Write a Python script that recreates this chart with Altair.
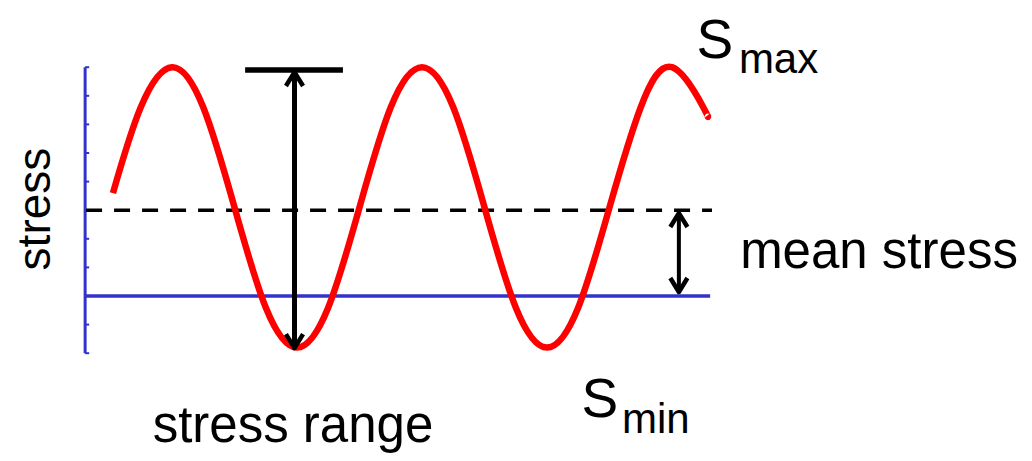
import altair as alt
import pandas as pd

# ---------------- data (x: time in eighths of a load cycle, y: stress in tick units) ----------------
curve_t = [0.11, 1, 2, 3, 4, 5, 6, 7, 8, 9, 10, 11, 12, 13, 14, 15, 16, 17, 18, 19, 19.12]
curve_s = [3.6, 6.6, 8.0, 6.6, 3.1, -0.4, -1.8, -0.4, 3.1, 6.6, 8.0, 6.6, 3.1, -0.4, -1.8, -0.4, 3.1, 6.6, 8.0, 6.6, 6.3]

axis_t = -0.78
tick_values = [-2, -1, 0, 1, 2, 3, 4, 5, 6, 7, 8]
tick_len = 0.13
line_end_t = 19.22

mean_stress = 3.0
zero_stress = 0.0

range_arrow_t = 5.92
range_top = 7.83
range_bottom = -1.82
bar_t = [4.34, 7.47]
bar_s = 7.9

mean_arrow_t = 18.22
mean_arrow_top = 2.9
mean_arrow_bottom = 0.14

big_labels = ["S", "S"]
big_t = [18.78, 15.1]
big_s = [8.32, -4.23]
sub_labels = ["max", "min"]
sub_t = [20.14, 16.4]
sub_s = [7.80, -4.79]
plain_labels = ["mean stress"]
plain_t = [20.18]
plain_s = [0.98]
range_label = ["stress range"]
range_label_t = [5.87]
range_label_s = [-5.105]
ylabel = ["stress"]
ylabel_t = [-1.9]
ylabel_s = [3.04]

# ---------------- styling ----------------
BLUE = "#3333CC"
RED = "#FF0000"
FONT = "Liberation Sans"
W, H = 1016, 445

XS = alt.Scale(domain=[-3.248, 29.264], nice=False, zero=False)
YS = alt.Scale(domain=[-5.4895, 10.0699], nice=False, zero=False)


def X(f):
    return alt.X(f, type="quantitative", scale=XS, axis=None)


def Y(f):
    return alt.Y(f, type="quantitative", scale=YS, axis=None)


axis_df = pd.DataFrame({"t": [axis_t], "s": [tick_values[0]], "s2": [tick_values[-1]]})
axis_line = alt.Chart(axis_df).mark_rule(color=BLUE, strokeWidth=3).encode(
    x=X("t"), y=Y("s"), y2="s2")

ticks_df = pd.DataFrame({"s": tick_values})
ticks_df["t"] = axis_t
ticks_df["t2"] = axis_t + tick_len
ticks = alt.Chart(ticks_df).mark_rule(color=BLUE, strokeWidth=2).encode(
    x=X("t"), x2="t2", y=Y("s"))

base_df = pd.DataFrame({"t": [axis_t], "t2": [line_end_t], "s": [zero_stress]})
baseline = alt.Chart(base_df).mark_rule(color=BLUE, strokeWidth=3.5).encode(
    x=X("t"), x2="t2", y=Y("s"))

mean_df = pd.DataFrame({"t": [axis_t + 0.03], "t2": [line_end_t + 0.06], "s": [mean_stress]})
mean_line = alt.Chart(mean_df).mark_rule(color="black", strokeWidth=3.5, strokeDash=[16, 12]).encode(
    x=X("t"), x2="t2", y=Y("s"))

curve_df = pd.DataFrame({"t": curve_t, "s": curve_s})
curve = alt.Chart(curve_df).mark_line(color=RED, strokeWidth=6.5, interpolate="natural").encode(
    x=X("t"), y=Y("s"), order="t:Q")

bar_df = pd.DataFrame({"t": [bar_t[0]], "t2": [bar_t[1]], "s": [bar_s]})
top_bar = alt.Chart(bar_df).mark_rule(color="black", strokeWidth=5.5).encode(
    x=X("t"), x2="t2", y=Y("s"))

big_shaft_df = pd.DataFrame({"t": [range_arrow_t], "s": [range_bottom], "s2": [range_top]})
big_shaft = alt.Chart(big_shaft_df).mark_rule(color="black", strokeWidth=5).encode(
    x=X("t"), y=Y("s"), y2="s2")

small_shaft_df = pd.DataFrame({"t": [mean_arrow_t], "s": [mean_arrow_bottom], "s2": [mean_arrow_top]})
small_shaft = alt.Chart(small_shaft_df).mark_rule(color="black", strokeWidth=4).encode(
    x=X("t"), y=Y("s"), y2="s2")

UP = "M -0.95 1.55 L 0 0 L 0.95 1.55"
DOWN = "M -0.95 -1.55 L 0 0 L 0.95 -1.55"
up_df = pd.DataFrame({"t": [range_arrow_t, mean_arrow_t], "s": [range_top, mean_arrow_top]})
down_df = pd.DataFrame({"t": [range_arrow_t, mean_arrow_t], "s": [range_bottom, mean_arrow_bottom]})
heads_up = alt.Chart(up_df).mark_point(shape=UP, filled=False, size=324, color="black",
                                        strokeWidth=4.5, opacity=1, strokeJoin="round").encode(
    x=X("t"), y=Y("s"))
heads_down = alt.Chart(down_df).mark_point(shape=DOWN, filled=False, size=324, color="black",
                                            strokeWidth=4.5, opacity=1, strokeJoin="round").encode(
    x=X("t"), y=Y("s"))

big_df = pd.DataFrame({"t": big_t, "s": big_s, "label": big_labels})
big_text = alt.Chart(big_df).mark_text(align="left", baseline="alphabetic", font=FONT,
                                       fontSize=55, color="black").encode(
    x=X("t"), y=Y("s"), text="label:N")

sub_df = pd.DataFrame({"t": sub_t, "s": sub_s, "label": sub_labels})
sub_text = alt.Chart(sub_df).mark_text(align="left", baseline="alphabetic", font=FONT,
                                       fontSize=42, color="black").encode(
    x=X("t"), y=Y("s"), text="label:N")

plain_df = pd.DataFrame({"t": plain_t, "s": plain_s, "label": plain_labels})
plain_text = alt.Chart(plain_df).mark_text(align="left", baseline="alphabetic", font=FONT,
                                           fontSize=51, color="black").encode(
    x=X("t"), y=Y("s"), text="label:N")

rl_df = pd.DataFrame({"t": range_label_t, "s": range_label_s, "label": range_label})
rl_text = alt.Chart(rl_df).mark_text(align="center", baseline="alphabetic", font=FONT,
                                     fontSize=51, color="black").encode(
    x=X("t"), y=Y("s"), text="label:N")

yl_df = pd.DataFrame({"t": ylabel_t, "s": ylabel_s, "label": ylabel})
yl_text = alt.Chart(yl_df).mark_text(align="center", baseline="alphabetic", font=FONT,
                                     fontSize=46, angle=270, color="black").encode(
    x=X("t"), y=Y("s"), text="label:N")

chart = alt.layer(
    axis_line, ticks, baseline, mean_line, curve, top_bar, big_shaft, small_shaft,
    heads_up, heads_down, big_text, sub_text, plain_text, rl_text, yl_text
).properties(
    width=W, height=H, padding=0,
    autosize=alt.AutoSizeParams(type="none"),
    background="white",
).configure_view(stroke=None)

chart.save("out.html", embed_options={"renderer": "svg", "actions": False})
